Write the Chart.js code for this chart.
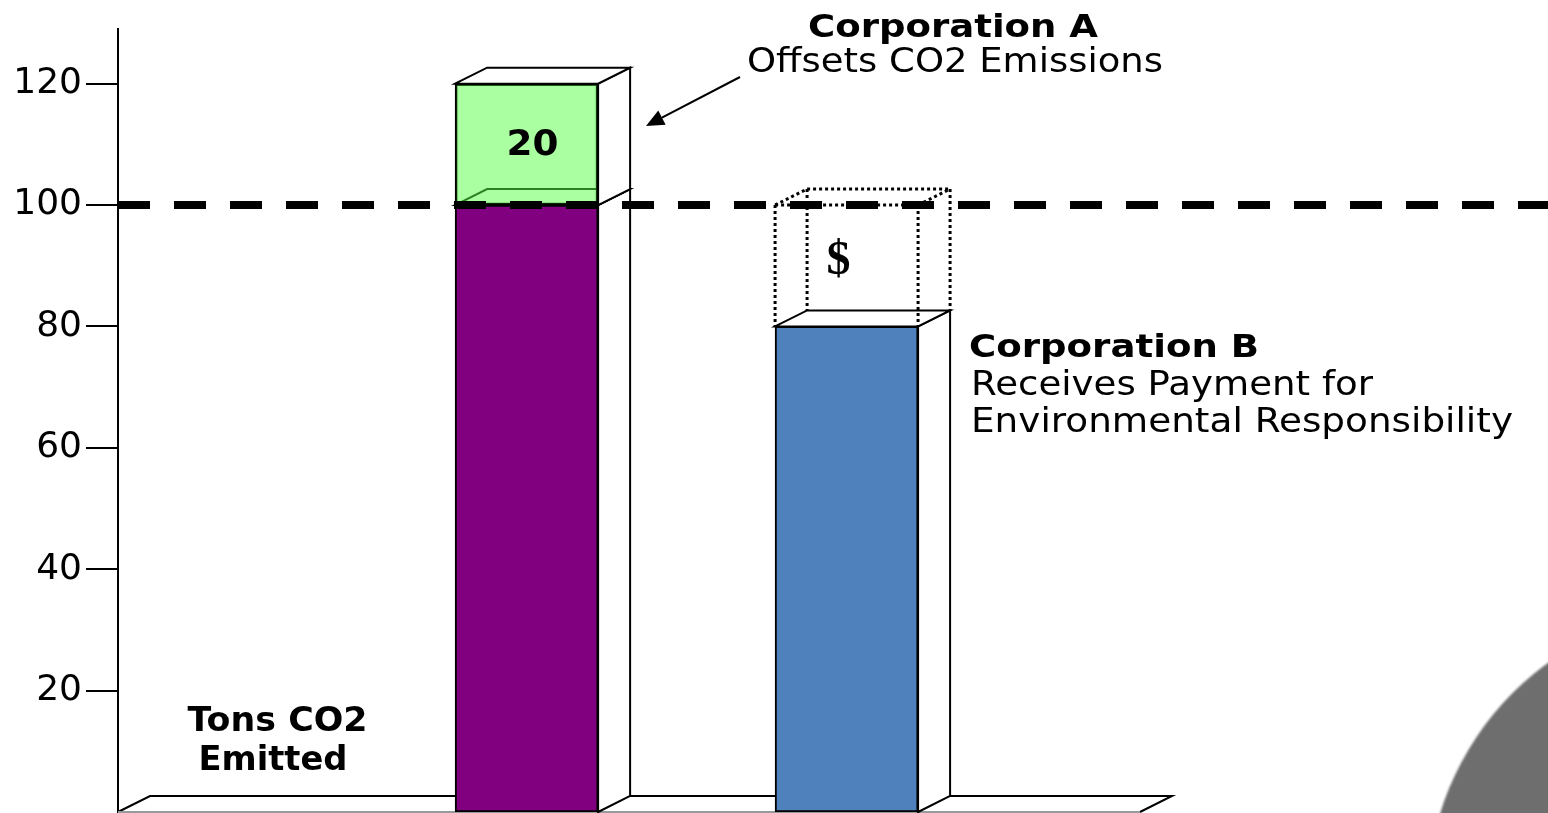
<!DOCTYPE html>
<html>
<head>
<meta charset="utf-8">
<title>Carbon offsets</title>
<script src="https://cdn.jsdelivr.net/npm/chart.js@4.4.1/dist/chart.umd.min.js"></script>
<style>
  html, body { margin: 0; padding: 0; background: #fff; overflow: hidden; }
</style>
</head>
<body>
<canvas id="offsetChart" width="1548" height="813"></canvas>
<script>
// Tons of CO2 per company
const companies = ["Corporation A", "Corporation B"];
const slots = [1, 2];
const emitted = [100, 80];
const offsets = [20, null];
const emissionCap = 100;
const yTicks = [20, 40, 60, 80, 100, 120];

const barColors = ["#800080", "#4f81bd"];
const offsetColor = "rgba(85, 255, 65, 0.5)";
const FONT = "'DejaVu Sans', Verdana, sans-serif";

// depth of the fake 3d boxes
const DX = 32;
const DY = 16;

function poly(ctx, pts, fill) {
  ctx.beginPath();
  ctx.moveTo(pts[0][0], pts[0][1]);
  for (let i = 1; i < pts.length; i++) ctx.lineTo(pts[i][0], pts[i][1]);
  ctx.closePath();
  if (fill) {
    ctx.fillStyle = fill;
    ctx.fill();
  }
  ctx.stroke();
}

function line(ctx, x1, y1, x2, y2) {
  ctx.beginPath();
  ctx.moveTo(x1, y1);
  ctx.lineTo(x2, y2);
  ctx.stroke();
}

// text squeezed/stretched sideways to a given width
function wideText(ctx, text, x, y, width, align) {
  const k = width / ctx.measureText(text).width;
  const left = align === "center" ? x - width / 2 : x;
  ctx.save();
  ctx.translate(left, y);
  ctx.scale(k, 1);
  ctx.textAlign = "left";
  ctx.fillText(text, 0, 0);
  ctx.restore();
}

function drawFaces(ctx, meta) {
  ctx.save();
  ctx.lineWidth = 2;
  ctx.strokeStyle = "#000";
  meta.data.forEach((bar) => {
    const l = bar.x - bar.width / 2;
    const r = bar.x + bar.width / 2;
    const t = Math.min(bar.y, bar.base);
    const b = Math.max(bar.y, bar.base);
    poly(ctx, [[r, b], [r + DX, b - DY], [r + DX, t - DY], [r, t]], "#fff");
    poly(ctx, [[l, t], [l + DX, t - DY], [r + DX, t - DY], [r, t]], "#fff");
  });
  ctx.restore();
}

const cube3d = {
  id: "cube3d",
  // floor, then the sides of the emission bars
  beforeDatasetsDraw(chart) {
    const { ctx, chartArea: a } = chart;
    ctx.save();
    ctx.lineWidth = 2;
    ctx.fillStyle = "#fff";
    ctx.strokeStyle = "#000";
    ctx.beginPath();
    ctx.moveTo(a.left, a.bottom);
    ctx.lineTo(a.left + DX, a.bottom - DY);
    ctx.lineTo(a.right + DX, a.bottom - DY);
    ctx.lineTo(a.right, a.bottom);
    ctx.fill();
    ctx.stroke();
    ctx.strokeStyle = "#999";
    line(ctx, a.left, a.bottom, a.right, a.bottom);
    ctx.restore();
    drawFaces(ctx, chart.getDatasetMeta(0));
  },
  afterDatasetsDraw(chart) {
    drawFaces(chart.ctx, chart.getDatasetMeta(1));
  },
  afterDraw(chart) {
    const { ctx, scales } = chart;
    const capY = scales.y.getPixelForValue(emissionCap);
    const blue = chart.getDatasetMeta(0).data[1];
    const green = chart.getDatasetMeta(1).data[0];

    ctx.save();

    // dotted box: what B could still emit up to the cap
    const l = blue.x - blue.width / 2;
    const r = blue.x + blue.width / 2;
    const t = blue.y;
    ctx.strokeStyle = "#000";
    ctx.lineWidth = 3;
    ctx.setLineDash([3, 3]);
    line(ctx, l, capY, l, t);
    line(ctx, r, capY, r, t);
    line(ctx, l, capY, r, capY);
    line(ctx, l + DX, capY - DY, r + DX, capY - DY);
    line(ctx, l + DX, capY - DY, l + DX, t - DY);
    line(ctx, r + DX, capY - DY, r + DX, t - DY);
    line(ctx, l, capY, l + DX, capY - DY);
    line(ctx, r, capY, r + DX, capY - DY);

    // emission cap
    ctx.setLineDash([32, 24]);
    ctx.lineWidth = 8;
    line(ctx, chart.chartArea.left, capY, chart.width, capY);
    ctx.setLineDash([]);

    // arrow pointing at A's offset
    const tail = [740, 77];
    const tip = [646, 126];
    const len = Math.hypot(tip[0] - tail[0], tip[1] - tail[1]);
    const ux = (tip[0] - tail[0]) / len;
    const uy = (tip[1] - tail[1]) / len;
    const hx = tip[0] - ux * 18;
    const hy = tip[1] - uy * 18;
    ctx.lineWidth = 2;
    line(ctx, tail[0], tail[1], hx, hy);
    ctx.fillStyle = "#000";
    ctx.beginPath();
    ctx.moveTo(tip[0], tip[1]);
    ctx.lineTo(hx - uy * 8, hy + ux * 8);
    ctx.lineTo(hx + uy * 8, hy - ux * 8);
    ctx.closePath();
    ctx.fill();

    // labels
    ctx.fillStyle = "#000";
    ctx.textBaseline = "alphabetic";
    ctx.font = "bold 32px " + FONT;
    wideText(ctx, companies[0], 953, 37, 290, "center");
    ctx.font = "34px " + FONT;
    wideText(ctx, "Offsets CO2 Emissions", 747, 72, 416);

    ctx.font = "bold 34px " + FONT;
    wideText(ctx, "Tons CO2", 277.5, 731, 180, "center");
    wideText(ctx, "Emitted", 273, 770, 149, "center");

    ctx.font = "bold 32px " + FONT;
    wideText(ctx, companies[1], 969, 357, 290);
    ctx.font = "34px " + FONT;
    wideText(ctx, "Receives Payment for", 971, 395, 402);
    wideText(ctx, "Environmental Responsibility", 971, 432, 542);

    ctx.textBaseline = "middle";
    ctx.font = "bold 35px " + FONT;
    wideText(ctx, String(offsets[0]), green.x + 6, (green.y + green.base) / 2 + 2, 52, "center");
    ctx.textAlign = "center";
    ctx.font = "bold 48px 'Liberation Serif', 'Times New Roman', serif";
    ctx.fillText("$", blue.x - 8, (capY + t) / 2 - 4);

    // grey disc in the corner
    ctx.filter = "blur(1px)";
    ctx.fillStyle = "#6e6e6e";
    ctx.beginPath();
    ctx.arc(1720, 900, 293, 0, Math.PI * 2);
    ctx.fill();

    ctx.restore();
  }
};

const ctx = document.getElementById("offsetChart").getContext("2d");

const offsetChart = new Chart(ctx, {
  type: "bar",
  data: {
    datasets: [
      {
        label: "Tons CO2 emitted",
        data: slots.map((x, i) => ({ x: x, y: emitted[i] })),
        backgroundColor: barColors
      },
      {
        label: "Offset",
        data: slots
          .map((x, i) => ({ x: x, y: offsets[i] }))
          .filter((p) => p.y !== null),
        backgroundColor: offsetColor
      }
    ]
  },
  options: {
    responsive: false,
    animation: false,
    events: [],
    layout: { padding: { top: 29, right: 408, bottom: 1, left: 0 } },
    datasets: {
      bar: {
        barThickness: 143,
        grouped: false,
        borderColor: "#000",
        borderWidth: 2,
        borderSkipped: false
      }
    },
    plugins: {
      legend: { display: false },
      tooltip: { enabled: false }
    },
    scales: {
      x: {
        type: "linear",
        display: false,
        offset: false,
        min: -0.277,
        max: 2.917
      },
      y: {
        stacked: true,
        min: 0,
        max: 129,
        afterBuildTicks: (scale) => {
          scale.ticks = yTicks.map((v) => ({ value: v }));
        },
        afterFit: (scale) => {
          scale.width = 118;
          scale.paddingTop = 0;
          scale.paddingBottom = 0;
        },
        grid: {
          drawOnChartArea: false,
          tickLength: 32,
          color: "#000",
          lineWidth: 2
        },
        border: { color: "#000", width: 2 },
        ticks: {
          color: "#000",
          padding: 4,
          font: { family: FONT, size: 36 }
        }
      }
    }
  },
  plugins: [cube3d]
});
</script>
</body>
</html>
